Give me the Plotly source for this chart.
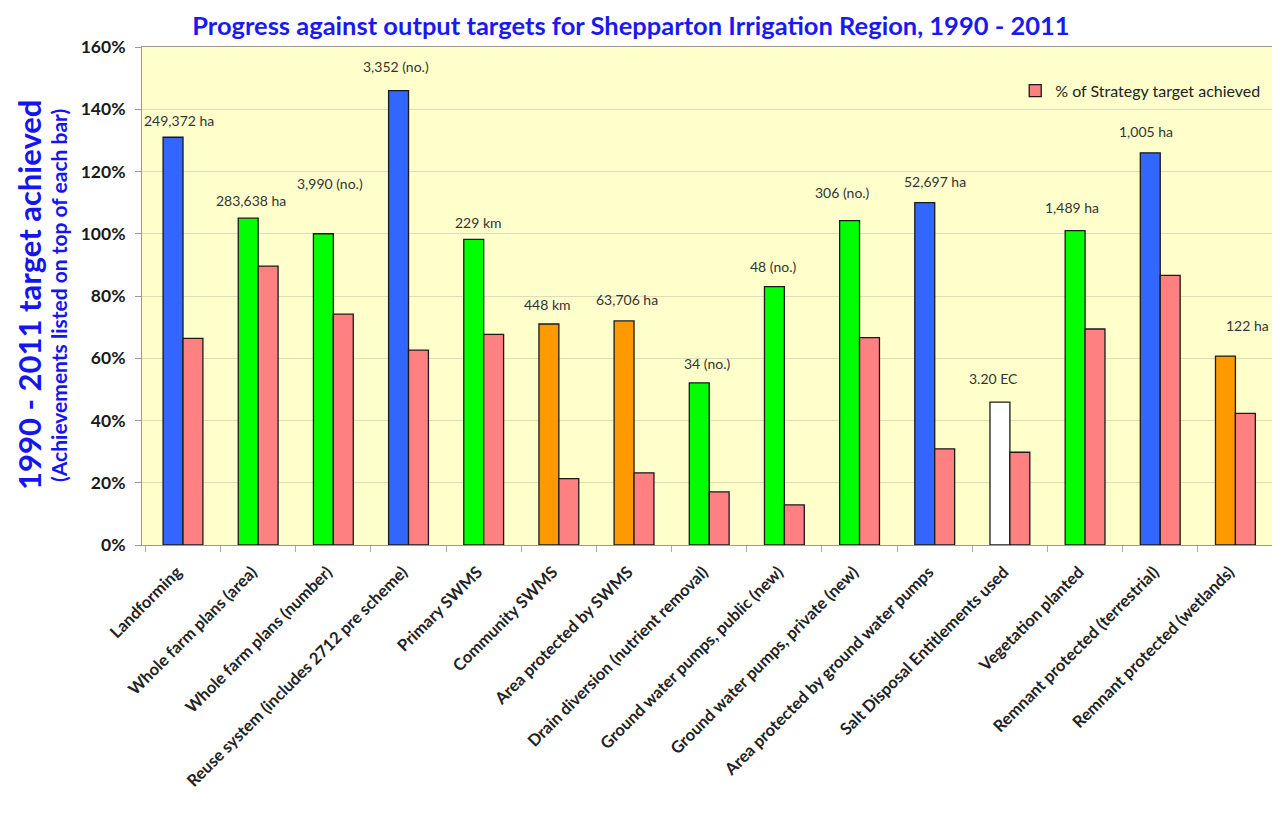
import plotly.graph_objects as go

categories = [
    "Landforming",
    "Whole farm plans (area)",
    "Whole farm plans (number)",
    "Reuse system (includes 2712 pre scheme)",
    "Primary SWMS",
    "Community SWMS",
    "Area protected by SWMS",
    "Drain diversion (nutrient removal)",
    "Ground water pumps, public (new)",
    "Ground water pumps, private (new)",
    "Area protected by ground water pumps",
    "Salt Disposal Entitlements used",
    "Vegetation planted",
    "Remnant protected (terrestrial)",
    "Remnant protected (wetlands)",
]
target_1990_2011 = [1.31, 1.05, 1.00, 1.46, 0.982, 0.71, 0.72, 0.521, 0.83, 1.042, 1.10, 0.459, 1.01, 1.26, 0.607]
strategy_achieved = [0.664, 0.896, 0.742, 0.626, 0.677, 0.213, 0.232, 0.171, 0.129, 0.666, 0.309, 0.298, 0.694, 0.866, 0.423]
achievement_labels = ["249,372 ha", "283,638 ha", "3,990 (no.)", "3,352 (no.)", "229 km", "448 km", "63,706 ha",
                      "34 (no.)", "48 (no.)", "306 (no.)", "52,697 ha", "3.20 EC", "1,489 ha", "1,005 ha", "122 ha"]
bar_groups = ["blue", "green", "green", "blue", "green", "orange", "orange", "green", "green", "green",
              "blue", "white", "green", "blue", "orange"]

group_colors = {"blue": "#3366FF", "green": "#00FF00", "orange": "#FF9900", "white": "#FFFFFF"}
# label pixel offsets (x relative to category centre, y above bar top)
label_dx = [-4, -7, -3, -13, -5, -11, -7, -2, -11, -17, 0, -16, -13, -14, 12]
label_dy = [17, 18, 50, 24, 17, 20, 21, 19, 20, 28, 21, 24, 23, 21, 31]

FONT = "Lato"
BLUE_TXT = "#1515F0"

fig = go.Figure()
fig.add_trace(go.Bar(
    x=categories, y=target_1990_2011,
    marker=dict(color=[group_colors[g] for g in bar_groups], line=dict(color="#1a1a1a", width=1.3)),
    showlegend=False, name="1990 - 2011 target achieved",
))
fig.add_trace(go.Bar(
    x=categories, y=strategy_achieved,
    marker=dict(color="#FF8080", line=dict(color="#1a1a1a", width=1.3)),
    name="% of Strategy target achieved",
))

for i, (c, v, t) in enumerate(zip(categories, target_1990_2011, achievement_labels)):
    fig.add_annotation(x=c, y=v, text=t, showarrow=False, xanchor="center", yanchor="middle",
                       xshift=label_dx[i], yshift=label_dy[i],
                       font=dict(family=FONT, size=14, color="#333333"))

fig.add_annotation(xref="paper", yref="paper", x=-0.0999, y=0.502, xanchor="center", yanchor="middle",
                   text="<b>1990 - 2011 target achieved</b>", textangle=-90, showarrow=False,
                   font=dict(family=FONT, size=31, color=BLUE_TXT))
fig.add_annotation(xref="paper", yref="paper", x=-0.0743, y=0.502, xanchor="center", yanchor="middle",
                   text="<b>(Achievements listed on top of each bar)</b>", textangle=-90, showarrow=False,
                   font=dict(family=FONT, size=21, color=BLUE_TXT))

fig.update_layout(
    width=1266, height=816,
    margin=dict(l=134, r=1, t=39, b=279),
    paper_bgcolor="white", plot_bgcolor="#FFFFCC",
    barmode="group", bargap=0.47, bargroupgap=0,
    title=dict(text="<b>Progress against output targets for Shepparton Irrigation Region, 1990 - 2011</b>",
               x=0.492, xanchor="center", y=0.978, yanchor="middle",
               font=dict(family=FONT, size=25.5, color="#1A1AF0")),
    legend=dict(x=0.994, xanchor="right", y=0.912, yanchor="middle", bgcolor="rgba(0,0,0,0)",
                font=dict(family=FONT, size=16, color="#222"), itemwidth=30),
    font=dict(family=FONT),
)
fig.update_yaxes(range=[0, 1.6], showgrid=True, gridcolor="#DDDDBB",
                 gridwidth=1.2, ticks="outside", ticklen=6, tickcolor="#999", showline=True,
                 linecolor="#999", mirror=True, zeroline=False, ticklabelstandoff=6,
                 tickvals=[i * 0.2 for i in range(9)], ticktext=[f"<b>{i*20}%</b>" for i in range(9)],
                 tickfont=dict(family=FONT, size=17.5, color="#1a1a1a"))
fig.update_xaxes(tickangle=-45, tickson="boundaries", ticks="outside", ticklen=6, tickcolor="#aaa",
                 showline=True, linecolor="#999", mirror=True, ticklabelstandoff=10, ticklabelshift=-6,
                 tickvals=categories, ticktext=[f"<b>{c}</b>" for c in categories],
                 tickfont=dict(family=FONT, size=16.5, color="#222"))

fig.write_html("out.html")
